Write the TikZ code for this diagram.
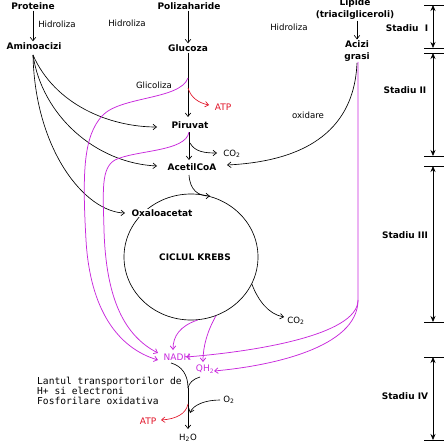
\documentclass[tikz,border=0pt]{standalone}
\usepackage{fontspec}
\setmainfont{DejaVu Sans}
\setmonofont{DejaVu Sans Mono}
\usetikzlibrary{arrows.meta,shapes.geometric}
\definecolor{mag}{RGB}{200,40,220}
\definecolor{atpred}{RGB}{225,20,40}
\begin{document}
\begin{tikzpicture}[x=1pt,y=-1pt,
  bl/.style={font=\fontsize{9}{12}\selectfont\bfseries, inner sep=1pt},
  rg/.style={font=\fontsize{8.6}{10}\selectfont, inner sep=1pt},
  atp/.style={font=\fontsize{9}{10}\selectfont, text=atpred, inner sep=1pt},
  mtext/.style={font=\fontsize{9}{10}\selectfont, text=mag, inner sep=1pt},
  arr/.style={-{Straight Barb[length=3.5pt,width=5.5pt]}, line width=0.65pt},
  mg/.style={arr, draw=mag, line width=0.75pt},
  rd/.style={arr, draw=atpred},
  dbl/.style={{Stealth[length=6pt,width=5pt]}-{Stealth[length=6pt,width=5pt]}, line width=0.65pt},
  tick/.style={line width=0.65pt}]
\useasboundingbox (0,0) rectangle (444,444);

% ---- stage scale ----
\foreach \yy in {5,48,53,156,166,322,357,440} \draw[tick] (424,\yy) -- (444,\yy);
\coordinate (s1a) at (433,5);   \coordinate (s1b) at (433,48);
\coordinate (s2a) at (433,53);  \coordinate (s2b) at (433,156);
\coordinate (s3a) at (433,166); \coordinate (s3b) at (433,322);
\coordinate (s4a) at (433,357); \coordinate (s4b) at (433,440);
\draw[dbl] (s1a) -- (s1b);
\draw[dbl] (s2a) -- (s2b);
\draw[dbl] (s3a) -- (s3b);
\draw[dbl] (s4a) -- (s4b);
\node[bl] (st1) at (407,28) {Stadiu\ \ I};
\node[bl] (st2) at (405,90) {Stadiu II};
\node[bl] (st3) at (405,235) {Stadiu III};
\node[bl] (st4) at (405,396) {Stadiu IV};

% ---- top row ----
\node[bl] (prot) at (33,6) {Proteine};
\node[bl] (amino) at (34,46) {Aminoacizi};
\node[bl] (poli) at (189,6) {Polizaharide};
\node[bl] (gluc) at (188,48) {Glucoza};
\node[bl,align=center] (lip) at (355,9) {Lipide\\(triacilgliceroli)};
\node[bl,align=center] (acizi) at (357,51) {Acizi\\grasi};
\node[rg] (h1) at (57,24) {Hidroliza};
\node[rg] (h2) at (127,23) {Hidroliza};
\node[rg] (h3) at (289,27) {Hidroliza};

\draw[arr] (prot.south) -- (prot.south |- amino.north);
\draw[arr] (poli.south -| gluc) -- (gluc.north);
\draw[arr] (lip.south -| acizi) -- (acizi.north);

% ---- stage II ----
\node[rg] (glic) at (154,85) {Glicoliza};
\node[bl] (piru) at (190,125) {Piruvat};
\node[bl] (acet) at (192,167) {AcetilCoA};
\node[rg] (oxid) at (308,115) {oxidare};
\node[rg] (co2a) at (232,154) {CO\textsubscript{2}};
\node[atp] (atp1) at (223,107) {ATP};

\coordinate (gb) at (188,78);
\coordinate (ga) at (188,88);
\coordinate (pt) at (188,117);
\draw[arr] (gluc.south) -- (pt);
\draw[rd] (ga) .. controls (191,98) and (199,103) .. (209,105);
\coordinate (pb) at (189,132);
\coordinate (pc) at (190,143);
\draw[arr] (pb) -- (189,160);
\draw[arr] (pc) .. controls (195,152) and (205,153) .. (217,153);

% aminoacid fan
\coordinate (am) at (33,55);
\coordinate (pin) at (157,127);
\coordinate (ain) at (157,166);
\coordinate (oin) at (125,213);
\draw[arr] (am) .. controls (55,105) and (110,127) .. (pin);
\draw[arr] (am) .. controls (42,115) and (95,163) .. (ain);
\draw[arr] (am) .. controls (35,150) and (85,212) .. (oin);

% oxidation of fatty acids
\coordinate (ag) at (357,63);
\coordinate (aout) at (227,165);
\draw[arr] (ag) .. controls (355,110) and (330,160) .. (aout);

% ---- Krebs ----
\node[draw, ellipse, line width=0.65pt, minimum width=134pt, minimum height=126pt, inner sep=0pt,
      font=\fontsize{9}{10}\selectfont\bfseries] (krebs) at (191,257) {\hspace*{8pt}CICLUL KREBS};
\node[bl, fill=white] (oxa) at (162,213) {Oxaloacetat};
\coordinate (acin) at (210,196);
\draw[arr] (189,175) .. controls (190,190) and (198,196) .. (acin);
\node[rg] (co2b) at (296,321) {CO\textsubscript{2}};
\draw[arr] (krebs.-24) .. controls (258,300) and (268,314) .. (284,317);

% ---- stage IV ----
\node[mtext] (nadh) at (177,357) {NADH};
\node[mtext] (qh2) at (205,369) {QH\textsubscript{2}};
\node[atp] (atp2) at (148,421) {ATP};
\node[rg] (o2) at (229,400) {O\textsubscript{2}};
\node[rg] (h2o) at (188,438) {H\textsubscript{2}O};
\node[font=\fontsize{9.6}{10}\ttfamily, align=left, anchor=north west, inner sep=0pt] (lant) at (37,377)
  {Lantul transportorilor de\\H+ si electroni\\Fosforilare oxidativa};

\coordinate (j) at (188,388);
\coordinate (nb) at (171,363);
\coordinate (qb) at (200,377);
\draw[line width=0.65pt] (nb) .. controls (182,366) and (188,375) .. (j);
\draw[line width=0.65pt] (qb) .. controls (193,379) and (189,383) .. (j);
\draw[arr] (j) -- (188,429);
\draw[rd] (188,404) .. controls (186,414) and (176,419) .. (161,420);
\draw[arr] (220,400) .. controls (205,400) and (193,405) .. (190,413);

% ---- magenta NADH / QH2 paths ----
\coordinate (nin1) at (158,353);
\coordinate (nin2) at (158,360);
\draw[mg] (gb) .. controls (180,100) and (120,96) .. (102,116)
   .. controls (84,136) and (82,170) .. (86,240)
   .. controls (90,310) and (118,348) .. (nin2);
\draw[mg] (pb) .. controls (186,152) and (135,150) .. (115,160)
   .. controls (101,168) and (103,190) .. (104,230)
   .. controls (106,300) and (125,336) .. (nin1);
\draw[mg] (krebs.-84) .. controls (180,326) and (173,336) .. (173,350);
\draw[mg] (krebs.-67) .. controls (208,330) and (203,345) .. (203,362);
\coordinate (av) at (358,300);
\draw[mg] (358,62) -- (av) .. controls (358,336) and (250,352) .. (186,357);
\draw[mg] (av) .. controls (358,348) and (270,366) .. (214,371);
\end{tikzpicture}
\end{document}
